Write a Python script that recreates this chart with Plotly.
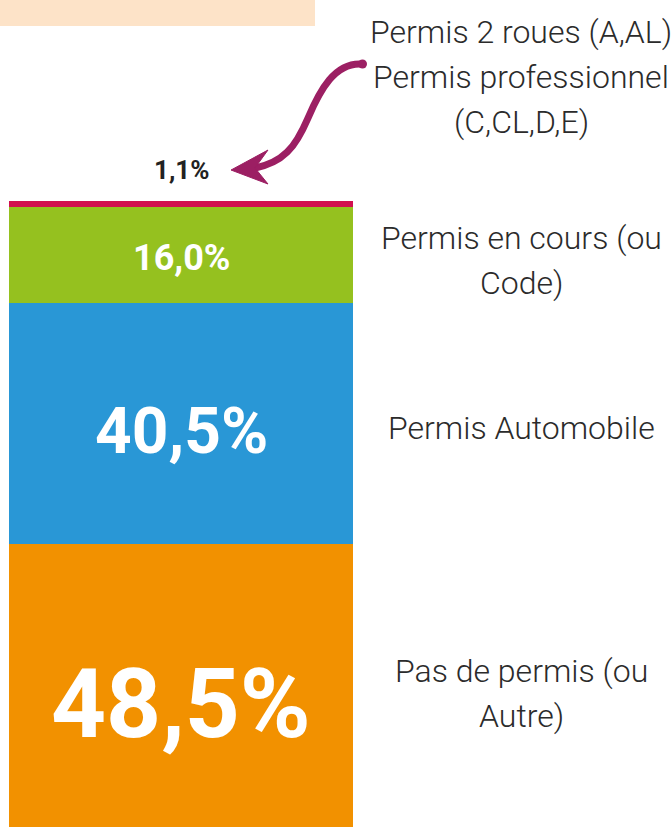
import plotly.graph_objects as go

# data
categories = ["Pas de permis (ou Autre)", "Permis Automobile",
              "Permis en cours (ou Code)", "Permis 2 roues / professionnel"]
values = [48.5, 40.5, 16.0, 1.1]
colors = ["#F29100", "#2997D6", "#95C11F", "#D10F4F"]
side_labels = [["Pas de permis (ou", "Autre)"],
               ["Permis Automobile"],
               ["Permis en cours (ou", "Code)"],
               ["Permis 2 roues (A,AL)", "Permis professionnel", "(C,CL,D,E)"]]
value_font_sizes = [96, 64, 36, 26]
value_shifts = [-16, -8, -3, 0]

W, H = 671, 827
BOLD = "Roboto, sans-serif"
LIGHT = "Roboto, sans-serif"


def pt(x, y):
    # pixel -> paper coords
    return "{:.4f},{:.4f}".format(x / W, 1 - y / H)


def fmt(v):
    return "{:.1f}%".format(v).replace(".", ",")


fig = go.Figure()
for cat, v, c in zip(categories, values, colors):
    fig.add_trace(go.Bar(x=[0], y=[v], name=cat, width=1,
                         marker=dict(color=c, line=dict(width=0)),
                         hoverinfo="skip"))

annotations = []
base = 0
for i, v in enumerate(values):
    mid = base + v / 2
    top = base + v
    if i < 3:
        annotations.append(dict(x=0, y=mid, xref="x", yref="y", text=fmt(v),
                                showarrow=False, yshift=value_shifts[i],
                                font=dict(family=BOLD, size=value_font_sizes[i],
                                          color="white", weight=700)))
        lines = side_labels[i]
        n = len(lines)
        for j, ln in enumerate(lines):
            off = -5 - (j - (n - 1) / 2) * 45
            annotations.append(dict(x=521 / W, y=mid, xref="paper", yref="y", text=ln,
                                    showarrow=False, yshift=off, xanchor="center",
                                    font=dict(family=LIGHT, size=32, color="#2b2b2b", weight=300)))
    else:
        annotations.append(dict(x=0, y=top, xref="x", yref="y", text=fmt(v),
                                showarrow=False, yshift=31,
                                font=dict(family=BOLD, size=value_font_sizes[i],
                                          color="#222222", weight=700)))
        for j, ln in enumerate(side_labels[i]):
            annotations.append(dict(x=521 / W, y=1 - (32 + 45 * j) / H, xref="paper", yref="paper",
                                    text=ln, showarrow=False, xanchor="center", yanchor="middle",
                                    font=dict(family=LIGHT, size=32, color="#2b2b2b", weight=300)))
    base = top

shapes = [
    dict(type="rect", xref="paper", yref="paper", x0=0, x1=315 / W, y0=1 - 26 / H, y1=1,
         fillcolor="#FDE3C8", line=dict(width=0), layer="below"),
    dict(type="path", xref="paper", yref="paper",
         path="M " + pt(362, 64) + " C " + pt(335, 62) + " " + pt(320, 90) + " " + pt(308, 118)
              + " C " + pt(296, 146) + " " + pt(284, 164) + " " + pt(250, 169),
         line=dict(color="#9C1F63", width=7)),
    dict(type="path", xref="paper", yref="paper",
         path="M " + pt(231, 170) + " L " + pt(268, 150) + " L " + pt(255, 168)
              + " L " + pt(268, 184) + " Z",
         fillcolor="#9C1F63", line=dict(color="#9C1F63", width=1)),
    dict(type="circle", xref="paper", yref="paper", x0=358 / W, x1=367 / W,
         y0=1 - 68.5 / H, y1=1 - 59.5 / H, fillcolor="#9C1F63", line=dict(width=0)),
]

fig.update_layout(
    barmode="stack",
    width=W, height=H,
    margin=dict(l=0, r=0, t=0, b=0),
    paper_bgcolor="white", plot_bgcolor="white",
    showlegend=False,
    xaxis=dict(range=[-0.526, 1.424], visible=False, fixedrange=True),
    yaxis=dict(range=[1.0, 139.8], visible=False, fixedrange=True),
    annotations=annotations,
    shapes=shapes,
)

fig.write_html("out.html", config={"displayModeBar": False},
               post_script="document.body.style.margin='0';document.body.style.overflow='hidden';")
